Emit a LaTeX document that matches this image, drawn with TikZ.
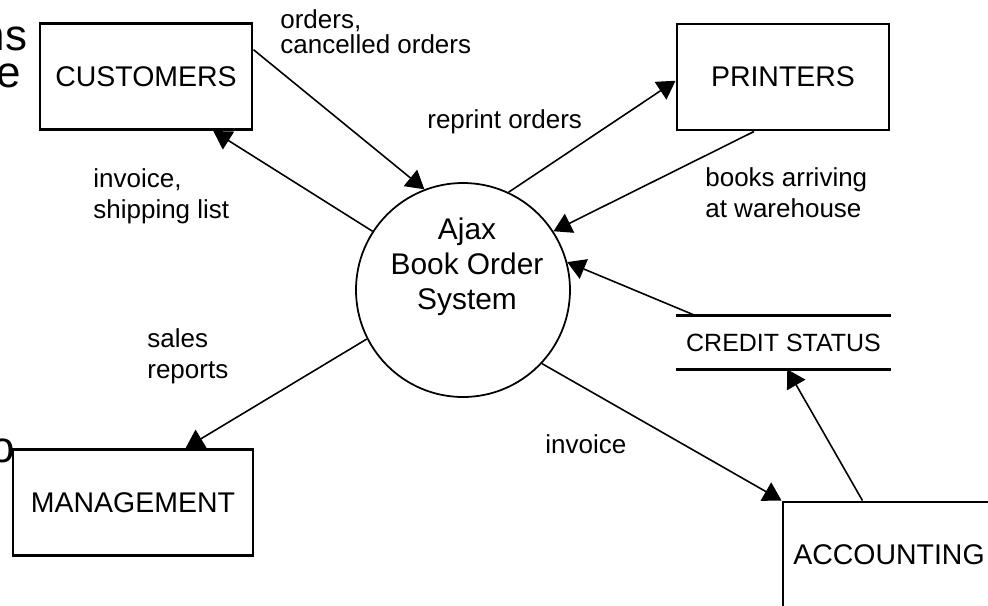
\documentclass[tikz,border=0pt]{standalone}
\usepackage{fontspec}
\setmainfont{Liberation Sans}
\usetikzlibrary{positioning,arrows.meta}

\begin{document}
\begin{tikzpicture}
            \tikzset{
                entity/.style={
                    draw,
                    line width=1.7pt,
                    minimum width=4.24cm,
                    minimum height=2.12cm,
                    inner sep=0pt,
                    font=\fontsize{16.2}{19}\selectfont
                }
            }
            \tikzset{
                process/.style={
                    draw,
                    circle,
                    line width=1pt,
                    minimum size=4.28cm,
                    inner sep=0pt
                }
            }
            \tikzset{
                store/.style={
                    minimum width=4.3cm,
                    minimum height=1.06cm,
                    inner sep=0pt,
                    font=\fontsize{14.2}{17}\selectfont
                }
            }
            \tikzset{
                flow/.style={
                    -{Triangle[length=0.36cm,width=0.42cm]},
                    line width=0.9pt
                }
            }
            \tikzset{
                flowlabel/.style={
                    anchor=north west,
                    inner sep=0pt,
                    align=left,
                    font=\fontsize{14.8}{17.6}\selectfont
                }
            }
            \tikzset{
                slidetext/.style={
                    anchor=base east,
                    inner sep=0pt,
                    text height=1.1ex,
                    text depth=0pt,
                    font=\fontsize{25}{30}\selectfont
                }
            }

            \useasboundingbox (0,0) rectangle (19.76,-12.12);
            \clip (0,0) rectangle (19.76,-12.12);

            % leftover slide text
            \node[slidetext] (fragns) at (0.55,-1.0) {ns};
            \node[slidetext] (frage) at (0.42,-1.75) {e};
            \node[slidetext] (frago) at (0.3,-9.24) {o};

            \node[entity] (cust) at (2.92,-1.53) {CUSTOMERS};
            \node[entity] (print) at (15.66,-1.54) {PRINTERS};
            \node[entity, minimum width=4.8cm] (mgmt) at (2.66,-10.05) {MANAGEMENT};
            \node[entity] (acct) at (17.78,-11.1) {ACCOUNTING};

            \node[process, label={[name=systxt, align=center, xshift=0.08cm, yshift=0.46cm, font=\fontsize{17}{19.9}\selectfont]center:Ajax\\Book Order\\System}] (sys) at (9.26,-5.8) {};

            \node[store] (credit) at (15.67,-6.85) {CREDIT STATUS};
            \draw[line width=1.5pt] (credit.north west) -- (credit.north east);
            \draw[line width=1.5pt] (credit.south west) -- (credit.south east);

            \node[flowlabel] (lorders) at (5.6,-0.18) {orders,\\[-0.12cm]cancelled orders};
            \node[flowlabel] (lreprint) at (8.54,-2.18) {reprint orders};
            \node[flowlabel] (linvoice) at (1.86,-3.36) {invoice,\\shipping list};
            \node[flowlabel] (lbooks) at (14.1,-3.34) {books arriving\\at warehouse};
            \node[flowlabel] (lsales) at (2.94,-6.56) {sales\\reports};
            \node[flowlabel] (linvacct) at (10.9,-8.68) {invoice};

            \draw[flow] (cust.14) -- (sys.111);
            \draw[flow] (sys.147) -- (cust.-39);
            \draw[flow] (sys.65) -- (print.182);
            \draw[flow] (print.-118) -- (sys.33);
            \draw[flow] (credit.163) -- (sys.15);
            \draw[flow] (sys.207) -- (mgmt.46);
            \draw[flow] (sys.-43) -- (acct.north west);
            \draw[flow] (acct.116) -- (credit.-82);
        \end{tikzpicture}
\end{document}
